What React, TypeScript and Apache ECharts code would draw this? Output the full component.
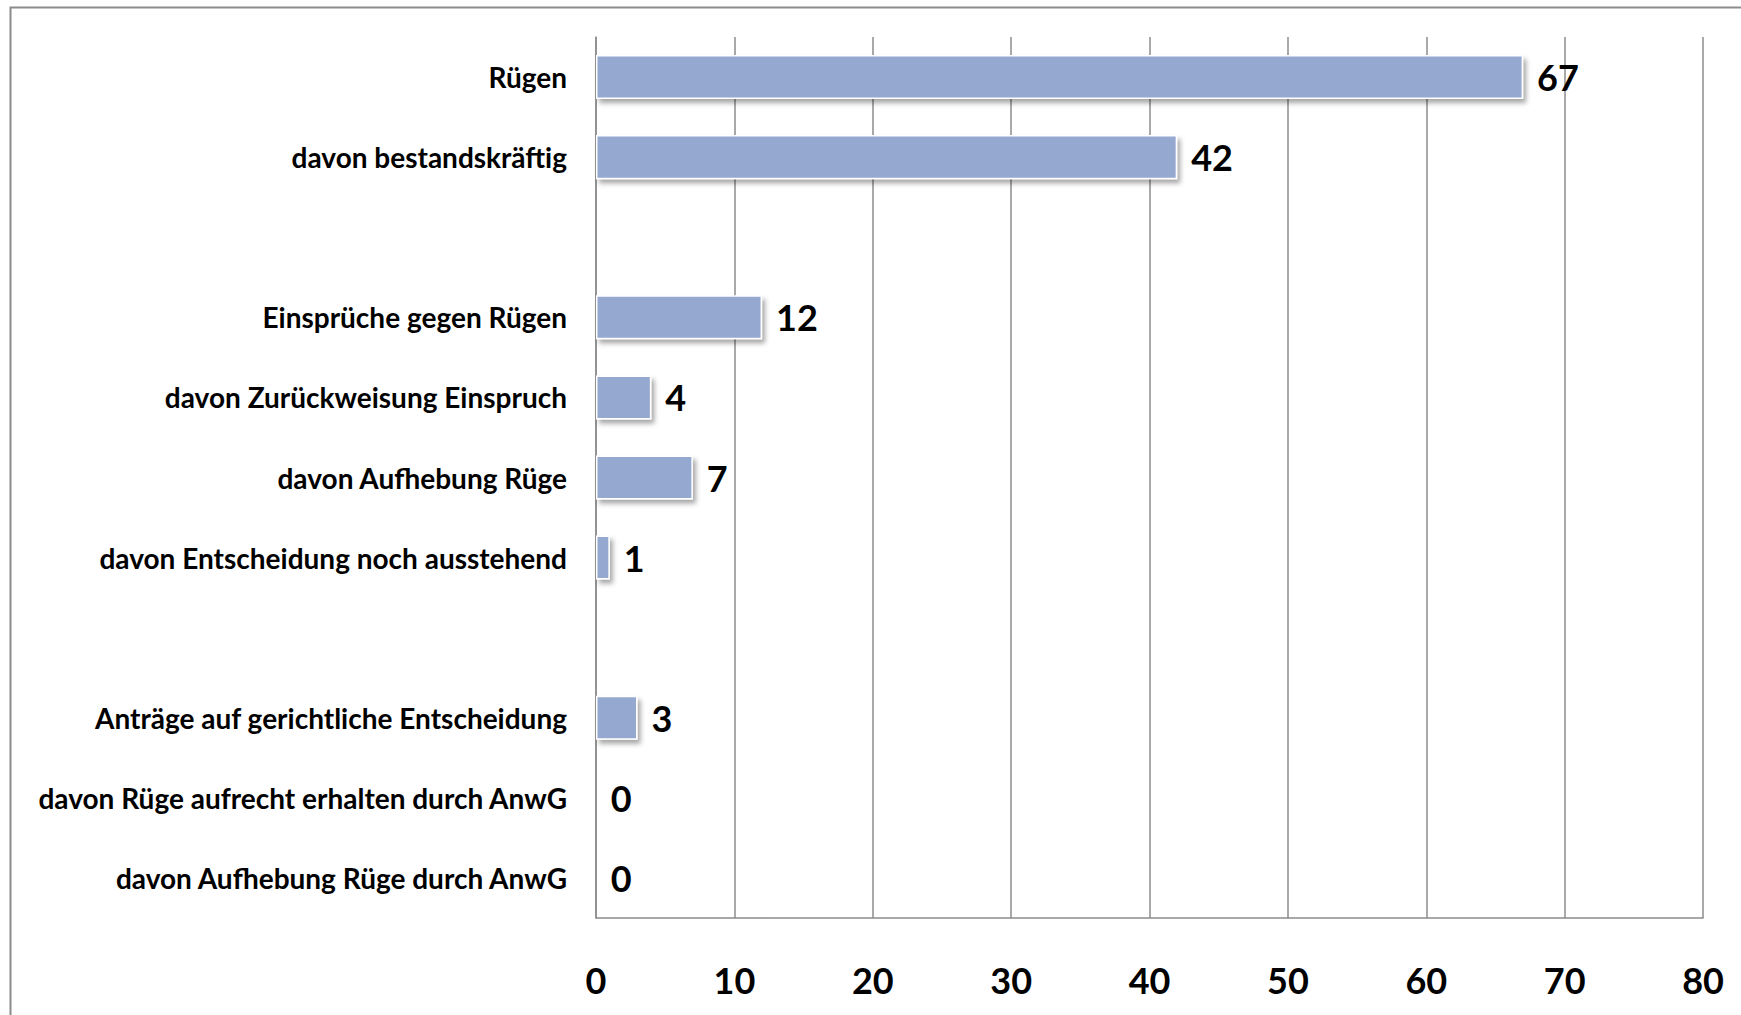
import React, { useEffect, useRef } from "react";
import * as echarts from "echarts";

const categories = [
  "Rügen",
  "davon bestandskräftig",
  "",
  "Einsprüche gegen Rügen",
  "davon Zurückweisung Einspruch",
  "davon Aufhebung Rüge",
  "davon Entscheidung noch ausstehend",
  " ",
  "Anträge auf gerichtliche Entscheidung",
  "davon Rüge aufrecht erhalten durch AnwG",
  "davon Aufhebung Rüge durch AnwG",
];
const values = [67, 42, 0, 12, 4, 7, 1, 0, 3, 0, 0];
const blankRows = [false, false, true, false, false, false, false, true, false, false, false];
const xTicks = [0, 10, 20, 30, 40, 50, 60, 70, 80];

const FONT = "Lato, 'Open Sans', sans-serif";
const GRAY = "#8c8c8c";

export default function App() {
  const ref = useRef<HTMLDivElement>(null);
  useEffect(() => {
    document.body.style.margin = "0";
    if (!ref.current) return;
    const chart = echarts.init(ref.current, undefined, { renderer: "svg" });
    const data = values.map((v, i) => ({
      value: v,
      label: { show: !blankRows[i] },
    }));
    chart.setOption({
      animation: false,
      backgroundColor: "#ffffff",
      graphic: [
        {
          type: "rect",
          shape: { x: 10.5, y: 7.5, width: 1800, height: 1100 },
          style: { fill: "none", stroke: GRAY, lineWidth: 2 },
          silent: true,
        },
      ],
      grid: { left: 596, right: 38, top: 37, bottom: 97, containLabel: false, outerBoundsMode: "none" },
      xAxis: {
        type: "value",
        min: xTicks[0],
        max: xTicks[xTicks.length - 1],
        interval: 10,
        axisLine: { show: true, lineStyle: { color: GRAY, width: 1.5 } },
        axisTick: { show: false },
        splitLine: { show: true, lineStyle: { color: GRAY, width: 1.5 } },
        axisLabel: { fontSize: 36, fontWeight: "bold", color: "#000", margin: 44, fontFamily: FONT },
      },
      yAxis: {
        type: "category",
        inverse: true,
        data: categories,
        axisLine: { show: true, lineStyle: { color: GRAY, width: 1.5 } },
        axisTick: { show: false },
        splitLine: { show: false },
        axisLabel: { fontSize: 28, fontWeight: "bold", color: "#000", margin: 29, fontFamily: FONT },
      },
      series: [
        {
          type: "bar",
          data,
          barCategoryGap: "45%",
          itemStyle: {
            color: "#95A9D0",
            borderColor: "#ffffff",
            borderWidth: 1.5,
            shadowColor: "rgba(0,0,0,0.35)",
            shadowBlur: 5,
            shadowOffsetX: 3,
            shadowOffsetY: 4,
          },
          label: {
            show: true,
            position: "right",
            distance: 14,
            fontSize: 36,
            fontWeight: "bold",
            color: "#000",
            fontFamily: FONT,
          },
        },
      ],
    });
    return () => chart.dispose();
  }, []);
  return <div ref={ref} style={{ width: 1741, height: 1015 }} />;
}
